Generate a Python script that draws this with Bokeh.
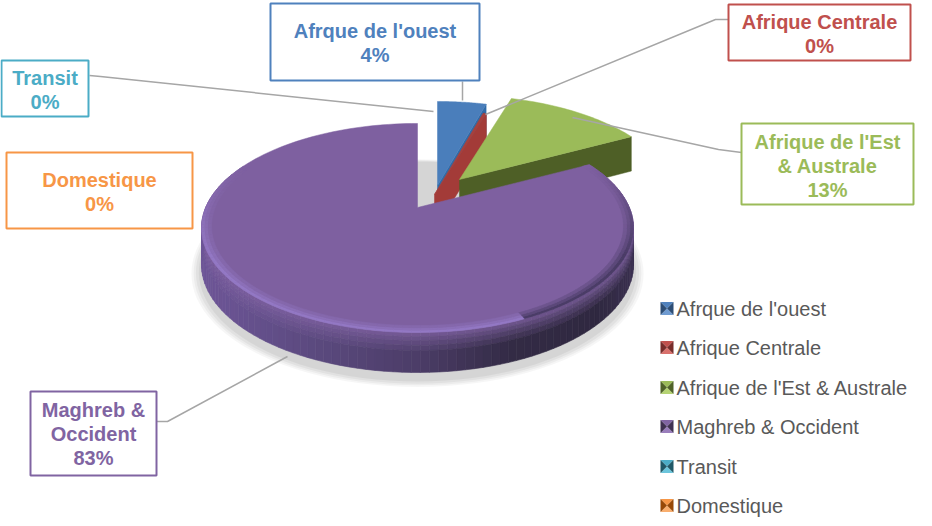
import math
from bokeh.plotting import figure
from bokeh.embed import file_html
from bokeh.resources import INLINE
from bokeh.core.properties import value

# ---------- data ----------
categories = ["Afrque de l'ouest", "Afrique Centrale", "Afrique de l'Est & Australe",
              "Maghreb & Occident", "Transit", "Domestique"]
values = [4.4, 0.3, 12.6, 82.7, 0.0, 0.0]
label_lines = [["Afrque de l'ouest"], ["Afrique Centrale"], ["Afrique de l'Est", "& Australe"],
               ["Maghreb &", "Occident"], ["Transit"], ["Domestique"]]

# ---------- style ----------
colors = ["#4F81BD", "#C0504D", "#9BBB59", "#8064A2", "#4BACC6", "#F79646"]
top_colors = ["#4A7EBB", "#A8403C", "#9BBB59", "#7E60A0", "#4BACC6", "#F79646"]
wall_colors = ["#2F6BA8", "#A33B38", "#4E5F26", "#4F3F6E", "#31859C", "#E46C0A"]
legend_dark = ["#2C4D75", "#772C2A", "#4F6228", "#3F3151", "#205867", "#974806"]
legend_light = ["#6F9BD1", "#D9706C", "#B5D373", "#9A7EBC", "#6CC5DC", "#F9AE6E"]
apexes = [(445, 193), (442, 202), (467, 187), (425, 215), (425, 215), (425, 215)]
boxes = [(278, 11, 487, 88), (736, 12, 918, 68), (749, 131, 921, 212),
         (38, 399, 164, 483), (9, 68, 96, 124), (14, 160, 200, 236)]
label_y0 = [38, 29, 149, 417, 85, 187]
leaders = [([470, 470], [89, 108]),
           ([493, 723, 736], [122, 27, 27]),
           ([580, 726, 749], [125, 157, 160]),
           ([295, 175, 164], [364, 429, 429]),
           ([441, 108, 97], [119, 84, 83])]
legend_y = [316, 355, 395, 434, 474, 513]

# projection constants
P, A, B = 0.196, 211.8, 100.5
DEPTH, Q = 36.0, 0.1


def proj(apex, theta, r=1.0, z=0.0):
    u, v = r * math.sin(theta), r * math.cos(theta)
    w = 1 + P * v
    return (apex[0] + A * u / w, apex[1] - B * v / w + z * DEPTH / (1 + Q * v))


def hex2rgb(c):
    return tuple(int(c[i:i + 2], 16) for i in (1, 3, 5))


def mix(c1, c2, t):
    t = max(0.0, min(1.0, t))
    a, b = hex2rgb(c1), hex2rgb(c2)
    return "#%02x%02x%02x" % tuple(round(a[i] + (b[i] - a[i]) * t) for i in range(3))


def ramp(stops, t):
    for (t0, c0), (t1, c1) in zip(stops, stops[1:]):
        if t <= t1:
            return mix(c0, c1, (t - t0) / (t1 - t0))
    return stops[-1][1]


p = figure(width=924, height=518, x_range=(8, 932), y_range=(526, 8),
           output_backend="svg", toolbar_location=None, min_border=0,
           outline_line_color=None, background_fill_color="white", border_fill_color="white")
p.axis.visible = False
p.grid.visible = False
p.styles = {"margin-bottom": "-8px"}

total = sum(values)
angles = []
acc = 0.0
for v in values:
    a0 = acc / total * 2 * math.pi
    acc += v
    angles.append((a0, acc / total * 2 * math.pi))

purple = 3
ap = apexes[purple]
N = 150

# soft shadow under the pie
for k, (grow, alpha) in enumerate([(1.045, 0.035), (1.035, 0.04), (1.025, 0.045), (1.012, 0.05)]):
    pts = [proj(ap, 2 * math.pi * i / 120, grow, 1.0 + 0.1 * grow) for i in range(120)]
    p.patch([q[0] for q in pts], [q[1] + 3 for q in pts], fill_color="#000000", fill_alpha=alpha, line_color=None)


def sector(apex, a0, a1, z=0.0, n=40):
    pts = [proj(apex, a0 + (a1 - a0) * i / n, 1.0, z) for i in range(n + 1)]
    ar = proj(apex, 0, 0, z)
    return [ar[0]] + [q[0] for q in pts], [ar[1]] + [q[1] for q in pts]


def radial_wall(apex, a):
    o0, o1 = proj(apex, a), proj(apex, a, 1.0, 1.0)
    c0, c1 = proj(apex, 0, 0), proj(apex, 0, 0, 1.0)
    return [c0[0], o0[0], o1[0], c1[0]], [c0[1], o0[1], o1[1], c1[1]]


# small slices: walls, then tops (back to front)
for i in [0, 1, 2]:
    a0, a1 = angles[i]
    xs, ys = radial_wall(apexes[i], a1)
    p.patch(xs, ys, fill_color=wall_colors[i], line_color=wall_colors[i], line_width=0.5)
    xs, ys = sector(apexes[i], a0, a1)
    p.patch(xs, ys, fill_color=top_colors[i], line_color=top_colors[i], line_width=0.5)

# purple wall, shaded along x and down the bevel
stops = [(0.0, "#6E5698"), (0.25, "#5C4A80"), (0.5, "#4C3D68"), (0.72, "#332B45"), (0.92, "#2F2840"), (1.0, "#3A3050")]
a0, a1 = angles[purple]
wx, wy, wc = [], [], []
Z = [0, 0.1, 0.2, 0.32, 0.45, 1.0]
for i in range(N):
    t0 = a0 + (a1 - a0) * i / N
    t1 = a0 + (a1 - a0) * (i + 1) / N
    if math.cos(t0) > 0.35 and math.cos(t1) > 0.35:
        continue
    xm = proj(ap, (t0 + t1) / 2)[0]
    base = ramp(stops, (xm - 207) / 433)
    front = max(0.0, -math.cos((t0 + t1) / 2))
    for j in range(len(Z) - 1):
        q = [proj(ap, t0, 1, Z[j]), proj(ap, t1, 1, Z[j]), proj(ap, t1, 1, Z[j + 1]), proj(ap, t0, 1, Z[j + 1])]
        wx.append([c[0] for c in q])
        wy.append([c[1] for c in q])
        wc.append(mix(base, "#7E60A0", (1 - j / 4) * 0.75) if j < 4 else base)
p.patches(wx, wy, fill_color=wc, line_color=wc, line_width=0.6)

# purple top
xs, ys = sector(ap, a0, a1, n=160)
p.patch(xs, ys, fill_color=top_colors[purple], line_color=top_colors[purple], line_width=0.5)

# bevel rim on the purple top
bx, by, bc = [], [], []
R = [1.0, 0.985, 0.97, 0.955]
for i in range(N):
    t0 = a0 + (a1 - a0) * i / N
    t1 = a0 + (a1 - a0) * (i + 1) / N
    tm = (t0 + t1) / 2
    cosm = math.cos(tm)
    if cosm > 0.45:
        continue
    xfrac = (proj(ap, tm)[0] - 207) / 433
    for j in range(3):
        q = [proj(ap, t0, R[j]), proj(ap, t1, R[j]), proj(ap, t1, R[j + 1]), proj(ap, t0, R[j + 1])]
        bx.append([c[0] for c in q])
        by.append([c[1] for c in q])
        strength = (1 - j / 3) * max(0.0, min(1.0, (0.45 - cosm) / 0.9))
        tint = "#9378C4" if xfrac < 0.75 else "#4A3C66"
        bc.append(mix(top_colors[purple], tint, strength))
p.patches(bx, by, fill_color=bc, line_color=bc, line_width=0.5)

# leader lines
for xs, ys in leaders:
    p.line(xs, ys, line_color="#A6A6A6", line_width=1.5)

# data labels
for i, (x0, y0, x1, y1) in enumerate(boxes):
    p.quad(left=x0, right=x1, top=y0, bottom=y1, fill_color="white", line_color=colors[i], line_width=2)
    lines = label_lines[i] + ["%d%%" % round(values[i])]
    for k, s in enumerate(lines):
        p.text([(x0 + x1) / 2], [label_y0[i] + 24 * k], text=[s], text_color=colors[i],
               text_font=value("Liberation Sans"), text_font_style="bold", text_font_size="20px",
               text_align="center", text_baseline="middle")

# legend
mx0, mx1 = 668, 681
for i, name in enumerate(categories):
    yc = legend_y[i]
    t, b = yc - 6.5, yc + 6.5
    cx, cy = (mx0 + mx1) / 2, yc
    p.patch([mx0, mx1, cx], [t, t, cy], fill_color=colors[i], line_color=None)
    p.patch([mx0, mx1, cx], [b, b, cy], fill_color=legend_light[i], line_color=None)
    p.patch([mx0, mx0, cx], [t, b, cy], fill_color=legend_dark[i], line_color=None)
    p.patch([mx1, mx1, cx], [t, b, cy], fill_color=legend_dark[i], line_color=None)
    p.text([684], [yc], text=[name], text_color="#595959", text_font=value("Liberation Sans"),
           text_font_size="20px", text_align="left", text_baseline="middle")

open("out.html", "w").write(file_html(p, INLINE))
